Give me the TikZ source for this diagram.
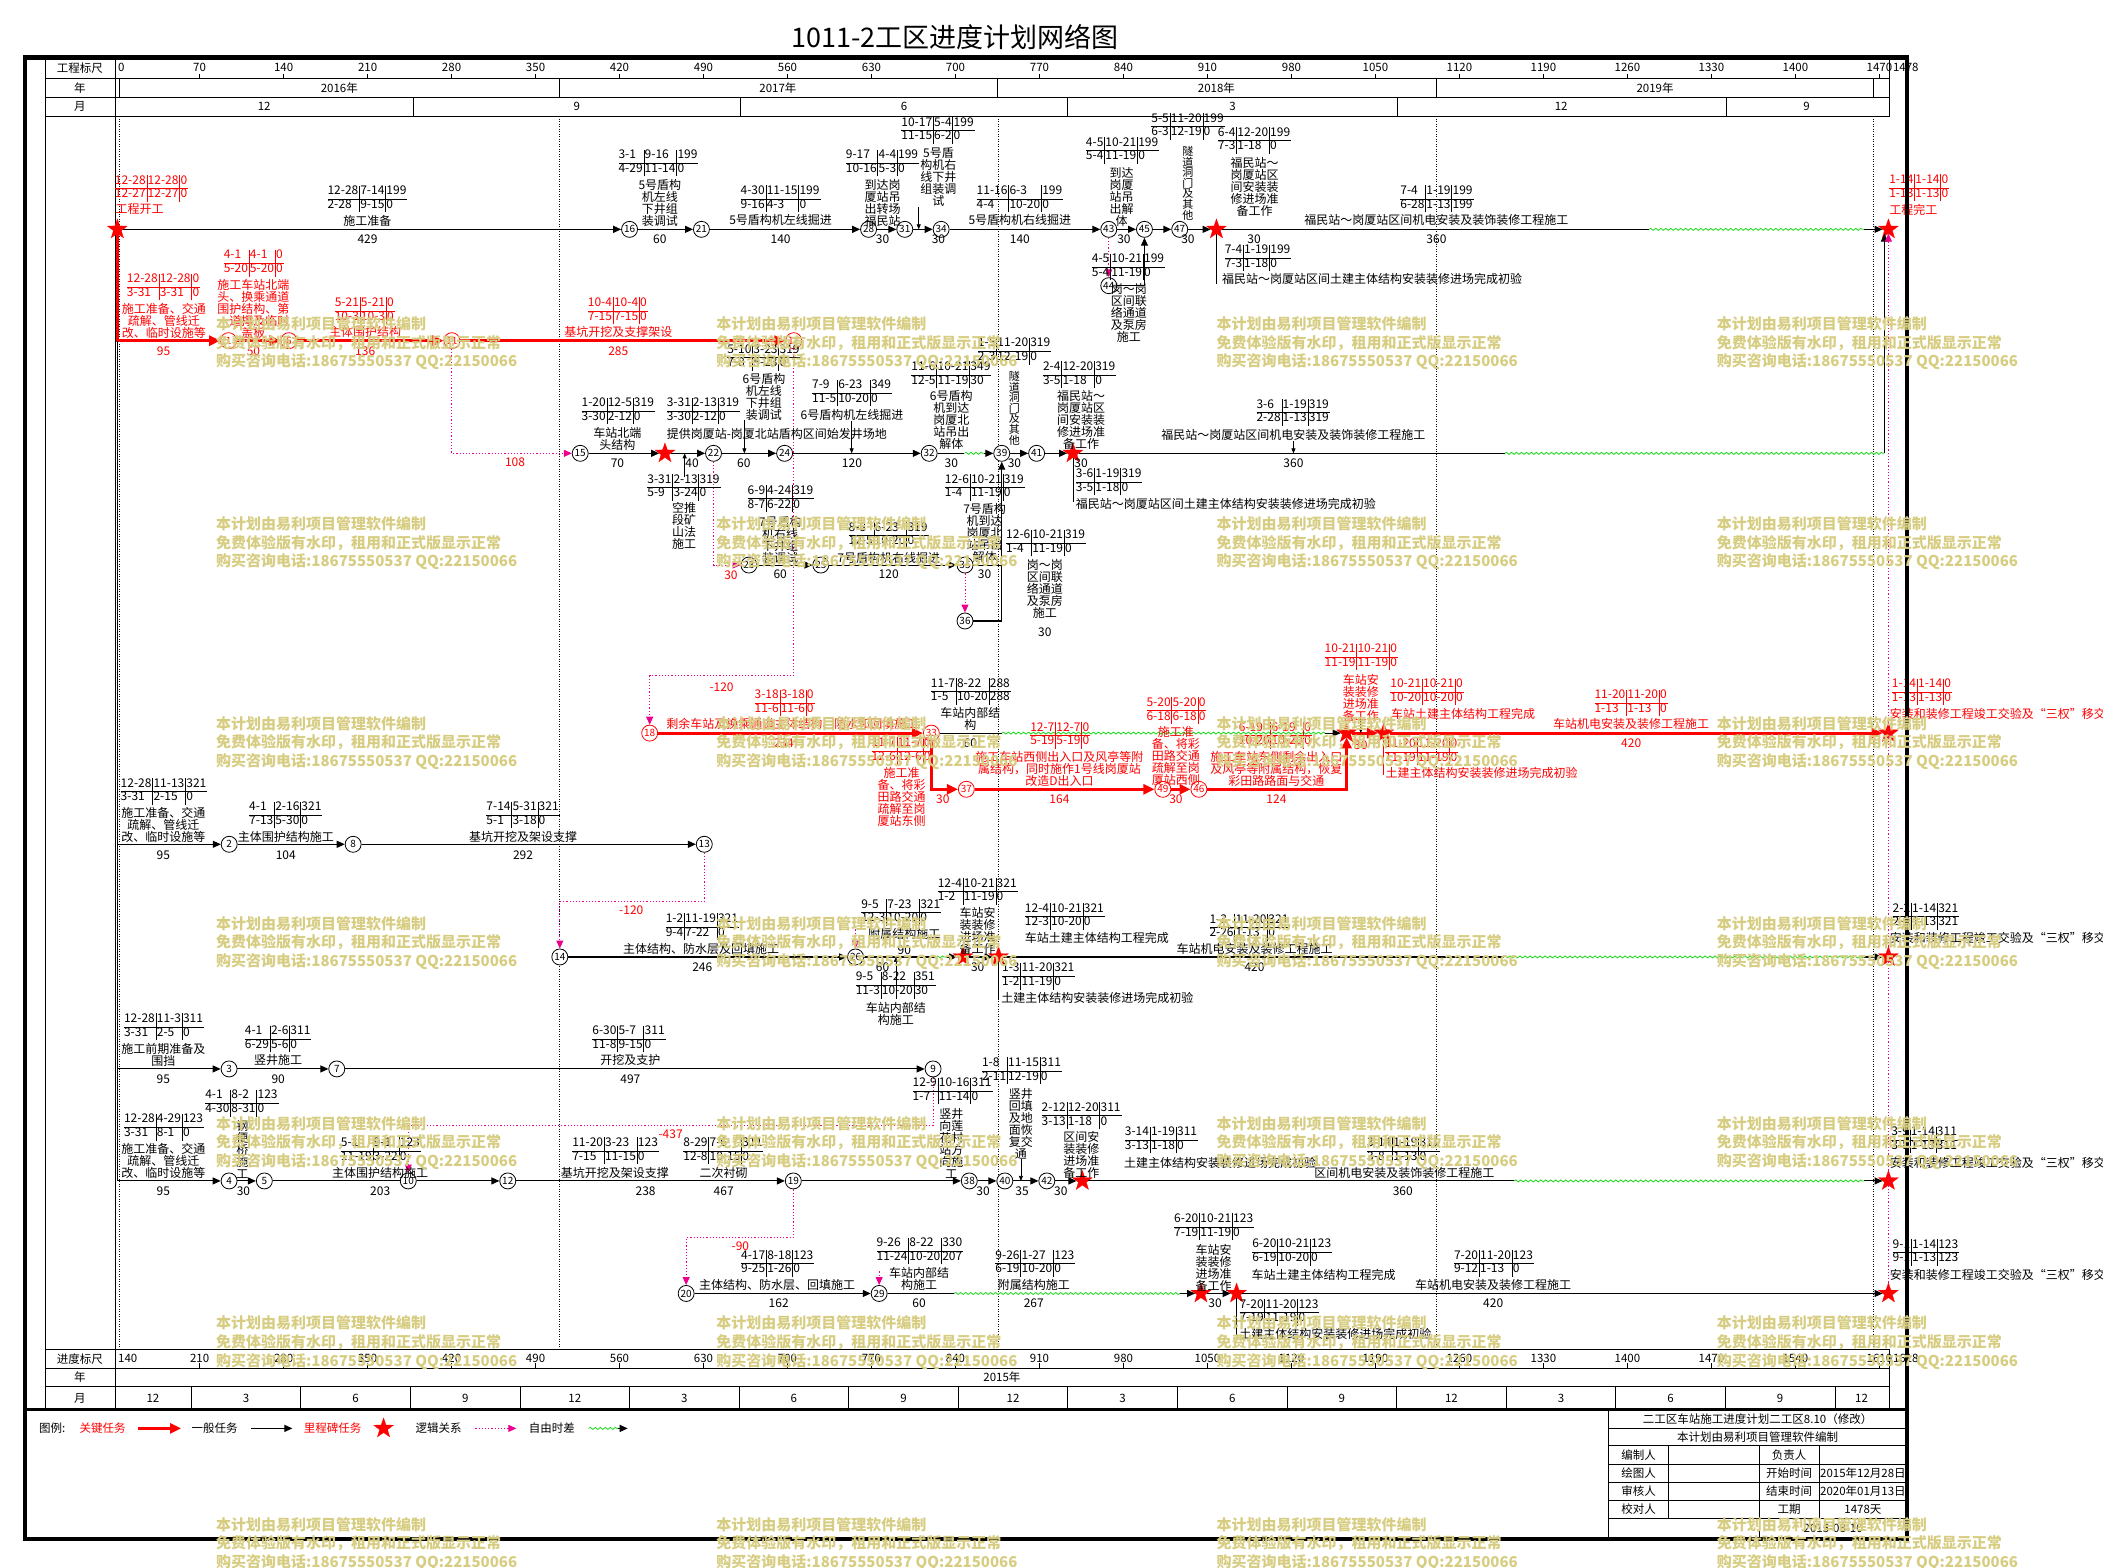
\documentclass[tikz,border=0pt]{standalone}
\usepackage{fontspec}
\setmainfont{Noto Sans CJK SC}
\usetikzlibrary{arrows.meta,shapes.geometric,decorations.pathmorphing}
\definecolor{wavegreen}{rgb}{0.1,0.85,0.1}
\definecolor{wmark}{RGB}{215,205,130}
\newcommand{\lblfont}{\fontsize{12}{12}\selectfont}
\newcommand{\wmfont}{\bfseries\fontsize{15}{18.6}\selectfont}
% date box: early start | late start | total float / early finish | late finish | free float
\newcommand{\dbox}[9][black]{\node[dbox,text=#1] (#2) at (#3) {\setlength{\tabcolsep}{1pt}\renewcommand{\arraystretch}{1.1}\begin{tabular}{@{}l|l|l@{\hspace{1pt}}}#4&#5&#6\\\hline#7&#8&#9\end{tabular}};}

\begin{document}
\begin{tikzpicture}[x=1.3412pt,y=-1.3412pt,
  ev/.style={circle,draw,fill=white,minimum size=16pt,inner sep=0pt,line width=0.8pt,font=\fontsize{10}{10}\selectfont},
  evc/.style={ev,draw=red,text=red},
  mile/.style={star,star points=5,star point ratio=2.5,fill=red,draw=red,line width=0.2pt,minimum size=21pt,inner sep=0pt},
  task/.style={line width=1.1pt,-{Triangle[length=8pt,width=7pt]}},
  tline/.style={line width=1.1pt},
  crit/.style={draw=red,line width=3pt,-{Triangle[length=11pt,width=10pt]}},
  logic/.style={draw=magenta,line width=1pt,dash pattern=on 1.2pt off 2pt,-{Triangle[length=8pt,width=7pt]}},
  slack/.style={draw=wavegreen,line width=0.8pt,decorate,decoration={snake,amplitude=1pt,segment length=5pt}},
  ptr/.style={line width=0.7pt,-{Triangle[length=5pt,width=4pt]}},
  lbl/.style={font=\lblfont,align=center,inner sep=0pt},
  rlbl/.style={lbl,text=red},
  dbox/.style={font=\lblfont,inner sep=0pt},
  hdr/.style={font=\fontsize{11.5}{11.5}\selectfont,inner sep=0pt},
  yearline/.style={line width=0.5pt,dash pattern=on 1pt off 1.5pt},
  wm/.style={font=\wmfont,text=wmark,align=left,anchor=west,inner sep=0pt}]

  \useasboundingbox (0,0) rectangle (1568,1169.1);

  \node[font=\fontsize{27}{27}\selectfont,inner sep=0pt] (title) at (712,28) {1011-2工区进度计划网络图};

  % time scale, top and bottom
  \foreach \hy in {58.4,72.6,86.7,1006,1020,1034} {
    \draw[line width=0.8pt] (33.5,\hy) -- (1409,\hy);
  }
  \draw[line width=0.8pt] (33.5,43) -- (33.5,1051);
  \draw[line width=0.8pt] (86,43) -- (86,1051);
  \draw[line width=0.8pt] (1409,43) -- (1409,86.7);
  \draw[line width=0.8pt] (1409,1006) -- (1409,1051);
  \node[hdr] (hs) at (59.5,50.5) {工程标尺};
  \node[hdr] (hy) at (59.5,65.5) {年};
  \node[hdr] (hm) at (59.5,79.6) {月};
  \node[hdr] (bs) at (59.5,1013) {进度标尺};
  \node[hdr] (by) at (59.5,1027) {年};
  \node[hdr] (bm) at (59.5,1042.5) {月};
  \node[hdr,anchor=west] (tk0) at (88,50.5) {0};
  \node[hdr,anchor=west] (bk0) at (88,1013) {140};
  \foreach \d [evaluate=\d as \b using int(\d+140)] in {70,140,...,1470} {
    \node[hdr] (tk\d) at (86.2+0.8946*\d,50.5) {\d};
    \node[hdr] (bk\d) at (86.2+0.8946*\d,1013) {\b};
    \draw[line width=0.7pt] (86.2+0.8946*\d,55) -- (86.2+0.8946*\d,58.4);
    \draw[line width=0.7pt] (86.2+0.8946*\d,1016.5) -- (86.2+0.8946*\d,1020);
  }
  \node[hdr] (tkend) at (1421,50.5) {1478};
  \node[hdr] (bkend) at (1421,1013) {1618};
  \foreach \yx in {89.2,417,744,1071,1397} {
    \draw[line width=0.8pt] (\yx,58.4) -- (\yx,72.6);
    \draw[yearline] (\yx,86.7) -- (\yx,1006);
  }
  \node[hdr] (y16) at (253,65.5) {2016年};
  \node[hdr] (y17) at (580,65.5) {2017年};
  \node[hdr] (y18) at (907,65.5) {2018年};
  \node[hdr] (y19) at (1234,65.5) {2019年};
  \foreach \mx in {308,552,796,1042,1287} {
    \draw[line width=0.8pt] (\mx,72.6) -- (\mx,86.7);
  }
  \node[hdr] (tm1) at (197,79.6) {12};
  \node[hdr] (tm2) at (430,79.6) {9};
  \node[hdr] (tm3) at (674,79.6) {6};
  \node[hdr] (tm4) at (919,79.6) {3};
  \node[hdr] (tm5) at (1164,79.6) {12};
  \node[hdr] (tm6) at (1347,79.6) {9};
  \node[hdr] (y15) at (747,1027) {2015年};
  \foreach \k in {0,...,15} {
    \draw[line width=0.8pt] (142.6+81.7*\k,1034) -- (142.6+81.7*\k,1051);
  }
  \node[hdr] (bmf) at (114,1042.5) {12};
  \foreach \m [count=\k from 0] in {3,6,9,12,3,6,9,12,3,6,9,12,3,6,9} {
    \node[hdr] (bm\k) at (183.45+81.7*\k,1042.5) {\m};
  }
  \node[hdr] (bml) at (1388,1042.5) {12};

  % events
  \node[mile] (s0) at (87.5,171) {};
  \node[ev] (n16) at (469.4,171) {16};
  \node[ev] (n21) at (523,171) {21};
  \node[ev] (n28) at (647.6,171) {28};
  \node[ev] (n31) at (674.6,171) {31};
  \node[ev] (n34) at (701.7,171) {34};
  \node[ev] (n43) at (826.7,171) {43};
  \node[ev] (n45) at (853.3,171) {45};
  \node[ev] (n47) at (879.6,171) {47};
  \node[ev] (n44) at (826.7,213) {44};
  \node[mile] (s10) at (907,171) {};
  \node[mile] (e1) at (1408,171) {};
  \node[evc] (n1) at (170.4,254) {1};
  \node[evc] (n6) at (215.4,254) {6};
  \node[evc] (n11) at (336.9,254) {11};
  \node[evc] (n17) at (591.8,254) {17};
  \node[ev] (n15) at (432.6,338) {15};
  \node[mile] (s1) at (495.8,338) {};
  \node[ev] (n22) at (532,338) {22};
  \node[ev] (n24) at (585,338) {24};
  \node[ev] (n32) at (692.8,338) {32};
  \node[ev] (n39) at (746.9,338) {39};
  \node[ev] (n41) at (772.9,338) {41};
  \node[mile] (s2) at (800,338) {};
  \node[ev] (n23) at (558.4,421.3) {23};
  \node[ev] (n25) at (612,421.3) {25};
  \node[ev] (n35) at (719.5,421.3) {35};
  \node[ev] (n36) at (719.5,463) {36};
  \node[evc] (n18) at (484.4,546.6) {18};
  \node[evc] (n33) at (694.4,546.6) {33};
  \node[evc] (n37) at (720.5,588.5) {37};
  \node[evc] (n49) at (867,588.5) {49};
  \node[evc] (n46) at (893.9,588.5) {46};
  \node[mile] (s3) at (1004,546.6) {};
  \node[mile] (s4) at (1031.8,546.6) {};
  \node[mile] (e5) at (1408,546.6) {};
  \node[ev] (n2) at (170.9,629.5) {2};
  \node[ev] (n8) at (263.3,629.5) {8};
  \node[ev] (n13) at (525.1,629.5) {13};
  \node[ev] (n14) at (417.4,713.5) {14};
  \node[ev] (n26) at (637.9,713.5) {26};
  \node[mile] (s5) at (718,713.5) {};
  \node[mile] (s6) at (744.5,713.5) {};
  \node[mile] (e7) at (1408,713.5) {};
  \node[ev] (n3) at (170.8,797) {3};
  \node[ev] (n7) at (251.1,797) {7};
  \node[ev] (n9) at (695.7,797) {9};
  \node[ev] (n4) at (170.8,880.5) {4};
  \node[ev] (n5) at (197.1,880.5) {5};
  \node[ev] (n10) at (304.4,880.5) {10};
  \node[ev] (n12) at (378.6,880.5) {12};
  \node[ev] (n19) at (591.5,880.5) {19};
  \node[ev] (n38) at (722.7,880.5) {38};
  \node[ev] (n40) at (749.2,880.5) {40};
  \node[ev] (n42) at (780.5,880.5) {42};
  \node[mile] (s7) at (807,880.5) {};
  \node[mile] (e9) at (1408,880.5) {};
  \node[ev] (n20) at (511.6,964.4) {20};
  \node[ev] (n29) at (655.5,964.4) {29};
  \node[mile] (s8) at (895.4,964.4) {};
  \node[mile] (s9) at (922,964.4) {};
  \node[mile] (e10) at (1408,964.4) {};

  \coordinate (k2) at (87.5,254);
  \coordinate (k6) at (87.5,629.5);
  \coordinate (k8) at (87.5,797);
  \coordinate (k9) at (87.5,880.5);
  \coordinate (w1a) at (1229.6,171);
  \coordinate (w1b) at (1390,171);
  \coordinate (w3a) at (719.1,338);
  \coordinate (w3b) at (734,338);
  \coordinate (w3c) at (1122,338);
  \coordinate (w3d) at (1405,338);
  \coordinate (w5a) at (747,546.6);
  \coordinate (w5b) at (988,546.6);
  \coordinate (w7a) at (698,713.5);
  \coordinate (w7b) at (705,713.5);
  \coordinate (w7c) at (1121,713.5);
  \coordinate (w7d) at (1390,713.5);
  \coordinate (w9a) at (1129,880.5);
  \coordinate (w9b) at (1390,880.5);
  \coordinate (w10a) at (711.4,964.4);
  \coordinate (w10b) at (880,964.4);
  \coordinate (j18) at (484.4,504);
  \coordinate (j14) at (417.4,672.2);
  \coordinate (j10) at (304.4,839.4);
  \coordinate (j20) at (511.6,923);
  \coordinate (q26) at (637.9,693);
  \coordinate (q29) at (655.5,948);
  \coordinate (m10) at (907,212);
  \coordinate (m2) at (800,374);
  \coordinate (m4) at (1031.8,578);
  \coordinate (m6) at (744.5,745);
  \coordinate (m9) at (922,996);

  % connectors
  \draw[task] (s0) -- (n16);
  \draw[task] (n16) -- (n21);
  \draw[task] (n21) -- (n28);
  \draw[task] (n28) -- (n31);
  \draw[task] (n31) -- (n34);
  \draw[task] (n34) -- (n43);
  \draw[task] (n43) -- (n45);
  \draw[task] (n45) -- (n47);
  \draw[task] (n47) -- (s10);
  \draw[tline] (s10) -- (w1a);
  \draw[slack] (w1a) -- (w1b);
  \draw[task] (w1b) -- (e1);
  \draw[logic] (n43) -- (n44);
  \draw[task] (n44) -| (n45);
  \draw[tline,line width=0.8pt] (s10) -- (m10);

  \draw[crit] (s0) |- (n1);
  \draw[crit] (n1) -- (n6);
  \draw[crit] (n6) -- (n11);
  \draw[crit] (n11) -- (n17);
  \draw[logic] (n11) |- (n15);
  \draw[logic] (n17) |- (j18) -- (n18);
  \draw[tline] (k2) -- (k9);

  \draw[task] (n15) -- (s1);
  \draw[task] (s1) -- (n22);
  \draw[task] (n22) -- (n24);
  \draw[task] (n24) -- (n32);
  \draw[tline] (n32) -- (w3a);
  \draw[slack] (w3a) -- (w3b);
  \draw[task] (w3b) -- (n39);
  \draw[task] (n39) -- (n41);
  \draw[task] (n41) -- (s2);
  \draw[tline] (s2) -- (w3c);
  \draw[slack] (w3c) -- (w3d);
  \draw[task] (w3d) -- (w3d |- e1.south);
  \draw[tline,line width=0.8pt] (s2) -- (m2);

  \draw[logic] (n22) |- (n23);
  \draw[task] (n23) -- (n25);
  \draw[task] (n25) -- (n35);
  \draw[logic] (n35) -- (n36);
  \draw[tline] (n35) -- (n35 -| n39);
  \draw[task] (n36) -| (n39);

  \draw[crit] (n18) -- (n33);
  \draw[tline] (n33) -- (w5a);
  \draw[slack] (w5a) -- (w5b);
  \draw[task] (w5b) -- (s3);
  \draw[crit] (n33) |- (n37);
  \draw[crit] (n37) -- (n49);
  \draw[crit] (n49) -- (n46);
  \draw[crit] (n46) -| (s3);
  \draw[crit] (s3) -- (s4);
  \draw[crit] (s4) -- (e5);
  \draw[red,line width=0.8pt] (s4) -- (m4);

  \draw[task] (k6) -- (n2);
  \draw[task] (n2) -- (n8);
  \draw[task] (n8) -- (n13);
  \draw[logic] (n13) |- (j14) -- (n14);

  \draw[task] (n14) -- (n26);
  \draw[logic] (q26) -- (n26);
  \draw[tline] (n26) -- (w7a);
  \draw[slack] (w7a) -- (w7b);
  \draw[task] (w7b) -- (s5);
  \draw[task] (s5) -- (s6);
  \draw[tline] (s6) -- (w7c);
  \draw[slack] (w7c) -- (w7d);
  \draw[task] (w7d) -- (e7);
  \draw[tline,line width=0.8pt] (s6) -- (m6);

  \draw[task] (k8) -- (n3);
  \draw[task] (n3) -- (n7);
  \draw[task] (n7) -- (n9);
  \draw[logic] (n9) |- (j10) -- (n10);

  \draw[task] (k9) -- (n4);
  \draw[task] (n4) -- (n5);
  \draw[tline] (n5) -- (n10);
  \draw[task] (n10) -- (n12);
  \draw[task] (n12) -- (n19);
  \draw[task] (n19) -- (n38);
  \draw[task] (n38) -- (n40);
  \draw[task] (n40) -- (n42);
  \draw[task] (n42) -- (s7);
  \draw[tline] (s7) -- (w9a);
  \draw[slack] (w9a) -- (w9b);
  \draw[task] (w9b) -- (e9);
  \draw[logic] (n19) |- (j20) -- (n20);

  \draw[task] (n20) -- (n29);
  \draw[logic] (q29) -- (n29);
  \draw[tline] (n29) -- (w10a);
  \draw[slack] (w10a) -- (w10b);
  \draw[task] (w10b) -- (s8);
  \draw[task] (s8) -- (s9);
  \draw[task] (s9) -- (e10);
  \draw[tline,line width=0.8pt] (s9) -- (m9);

  \draw[logic] (e10) -- (e1);

  % row 1
  \dbox[red]{b1}{113,140.5}{12-28}{12-28}{0}{12-27}{12-27}{0}
  \node[rlbl,anchor=west] (t1) at (86,156) {工程开工};
  \dbox{b2}{274,148.4}{12-28}{7-14}{199}{2-28}{9-15}{0}
  \node[lbl] (t2) at (274,164.6) {施工准备};
  \node[lbl] (d2) at (274,178.2) {429};
  \dbox{b3}{491,121.5}{3-1}{9-16}{199}{4-29}{11-14}{0}
  \node[lbl] (t3) at (492,151.3) {5号盾构\\机左线\\下井组\\装调试};
  \node[lbl] (d3) at (492,178.2) {60};
  \dbox{b4}{582,148.2}{4-30}{11-15}{199}{9-16}{4-3}{0}
  \node[lbl] (t4) at (582,164.3) {5号盾构机左线掘进};
  \node[lbl] (d4) at (582,178.2) {140};
  \dbox{b5}{658,121.5}{9-17}{4-4}{199}{10-16}{5-3}{0}
  \node[lbl] (t5) at (658,151) {到达岗\\厦站吊\\出转场\\福民站};
  \node[lbl] (d5) at (658,178.2) {30};
  \dbox{b6}{699.4,97.3}{10-17}{5-4}{199}{11-15}{6-2}{0}
  \node[lbl] (t6) at (699.7,132.2) {5号盾\\构机右\\线下井\\组装调\\试};
  \node[lbl] (d6) at (699.7,178.2) {30};
  \coordinate (p6) at (685,154);
  \draw[ptr] (p6) -- (p6 |- n31);
  \dbox{b7}{760.5,148.2}{11-16}{6-3}{199}{4-4}{10-20}{0}
  \node[lbl] (t7) at (760.4,164.3) {5号盾构机右线掘进};
  \node[lbl] (d7) at (760.4,178.2) {140};
  \dbox{b8}{837,112.2}{4-5}{10-21}{199}{5-4}{11-19}{0}
  \node[lbl] (t8) at (836.3,146.9) {到达\\岗厦\\站吊\\出解\\体};
  \node[lbl] (d8) at (838,178.2) {30};
  \dbox{b9}{885.8,94.3}{5-5}{11-20}{199}{6-3}{12-19}{0}
  \node[lbl,font=\fontsize{11}{10}\selectfont] (t9) at (885.7,136.5) {隧\\道\\洞\\门\\及\\其\\他};
  \node[lbl] (d9) at (885.7,178.2) {30};
  \dbox{b10}{935.4,104.7}{6-4}{12-20}{199}{7-3}{1-18}{0}
  \node[lbl] (t10) at (935.4,139.5) {福民站～\\岗厦站区\\间安装装\\修进场准\\备工作};
  \node[lbl] (d10) at (935,178.2) {30};
  \dbox{b11}{1071.4,148.2}{7-4}{1-19}{199}{6-28}{1-13}{199}
  \node[lbl] (t11) at (1071,164.3) {福民站～岗厦站区间机电安装及装饰装修工程施工};
  \node[lbl] (d11) at (1071,178.2) {360};
  \dbox{b12}{938,192.4}{7-4}{1-19}{199}{7-3}{1-18}{0}
  \node[lbl,anchor=west] (t12) at (911,208.3) {福民站～岗厦站区间土建主体结构安装装修进场完成初验};
  \dbox{b13}{841.4,199}{4-5}{10-21}{199}{5-4}{11-19}{0}
  \node[lbl] (t13) at (841.6,233.4) {岗～岗\\区间联\\络通道\\及泵房\\施工};
  \dbox[red]{b14}{1431,140}{1-14}{1-14}{0}{1-13}{1-13}{0}
  \node[rlbl,anchor=west] (t14) at (1408.5,156.4) {工程完工};

  % row 2
  \dbox[red]{b15}{122,214}{12-28}{12-28}{0}{3-31}{3-31}{0}
  \node[rlbl] (t15) at (122.2,239) {施工准备、交通\\疏解、管线迁\\改、临时设施等};
  \node[rlbl] (d15) at (122,261.5) {95};
  \dbox[red]{b16}{189.2,196.2}{4-1}{4-1}{0}{5-20}{5-20}{0}
  \node[rlbl] (t16) at (189,230.3) {施工车站北端\\头、换乘通道\\围护结构、第\\一道撑及临时\\盖板};
  \node[rlbl] (d16) at (189,261.5) {50};
  \dbox[red]{b17}{272,231.8}{5-21}{5-21}{0}{10-3}{10-3}{0}
  \node[rlbl] (t17) at (272.3,247.8) {主体围护结构};
  \node[rlbl] (d17) at (272.3,261.5) {136};
  \dbox[red]{b18}{460.7,231.8}{10-4}{10-4}{0}{7-15}{7-15}{0}
  \node[rlbl] (t18) at (461,247.8) {基坑开挖及支撑架设};
  \node[rlbl] (d18) at (461,261.5) {285};
  \node[rlbl] (d19) at (384,344.5) {108};
  \node[rlbl] (d20) at (538,512.4) {-120};

  % row 3
  \dbox{b21}{461,306.4}{1-20}{12-5}{319}{3-30}{2-12}{0}
  \node[lbl] (t21) at (460.4,327.3) {车站北端\\头结构};
  \node[lbl] (d21) at (460.4,345.4) {70};
  \dbox{b22}{524.5,306.4}{3-31}{2-13}{319}{3-30}{2-12}{0}
  \node[lbl,anchor=west] (t22) at (497,323.3) {提供岗厦站-岗厦北站盾构区间始发井场地};
  \node[lbl] (d23) at (516,345.4) {40};
  \dbox{b23}{510,363.3}{3-31}{2-13}{319}{5-9}{3-24}{0}
  \node[lbl] (t23) at (510,392.3) {空推\\段矿\\山法\\施工};
  \coordinate (p22) at (510.5,356);
  \draw[ptr] (p22) -- (p22 |- s1);
  \dbox{b24}{569.6,266.3}{5-10}{3-23}{319}{7-8}{5-23}{0}
  \node[lbl] (t24) at (569.6,296) {6号盾构\\机左线\\下井组\\装调试};
  \node[lbl] (d24) at (554.6,345.4) {60};
  \coordinate (p24) at (555,313);
  \draw[ptr] (p24) -- (p24 |- n22);
  \dbox{b25}{635.3,293}{7-9}{6-23}{349}{11-5}{10-20}{0}
  \node[lbl] (t25) at (635.2,309.5) {6号盾构机左线掘进};
  \node[lbl] (d25) at (635.2,345.4) {120};
  \coordinate (p25) at (635,314);
  \draw[ptr] (p25) -- (p25 |- n24);
  \dbox{b26}{709.4,279.4}{11-6}{10-21}{349}{12-5}{11-19}{30}
  \node[lbl] (t26) at (709.3,313.3) {6号盾构\\机到达\\岗厦北\\站吊出\\解体};
  \node[lbl] (d26) at (709.3,345.4) {30};
  \dbox{b27}{756.5,261.8}{1-5}{11-20}{319}{2-3}{12-19}{0}
  \node[lbl,font=\fontsize{11}{10}\selectfont] (t27) at (756.4,304.5) {隧\\道\\洞\\门\\及\\其\\他};
  \node[lbl] (d27) at (756.4,345.4) {30};
  \dbox{b28}{805,279.4}{2-4}{12-20}{319}{3-5}{1-18}{0}
  \node[lbl] (t28) at (806,313.3) {福民站～\\岗厦站区\\间安装装\\修进场准\\备工作};
  \node[lbl] (d28) at (806,345.4) {30};
  \dbox{b29}{964.2,307.6}{3-6}{1-19}{319}{2-28}{1-13}{319}
  \node[lbl] (t29) at (964.4,324.1) {福民站～岗厦站区间机电安装及装饰装修工程施工};
  \node[lbl] (d29) at (964.4,345.4) {360};
  \coordinate (p29) at (964.4,329);
  \draw[ptr] (p29) -- (p29 |- s2);
  \dbox{b30}{827,359.3}{3-6}{1-19}{319}{3-5}{1-18}{0}
  \node[lbl,anchor=west] (t30) at (802,376) {福民站～岗厦站区间土建主体结构安装装修进场完成初验};
  \dbox{b31}{734.3,363.3}{12-6}{10-21}{319}{1-4}{11-19}{0}
  \node[lbl] (t31) at (734.1,397.2) {7号盾构\\机到达\\岗厦北\\站吊出\\解体};
  \node[lbl] (d31) at (734.1,428.5) {30};
  \dbox{b32}{780,404.8}{12-6}{10-21}{319}{1-4}{11-19}{0}
  \node[lbl] (t32) at (779,439.2) {岗～岗\\区间联\\络通道\\及泵房\\施工};
  \node[lbl] (d32) at (779,471.1) {30};

  % row 4
  \node[rlbl] (d33) at (545,429) {30};
  \dbox{b34}{582.3,371.8}{6-9}{4-24}{319}{8-7}{6-22}{0}
  \node[lbl] (t34) at (581.7,402.6) {7号盾构\\机右线\\下井组\\装调试};
  \node[lbl] (d34) at (581.7,428.5) {60};
  \dbox{b35}{662.5,399.2}{8-8}{6-23}{319}{12-5}{10-20}{0}
  \node[lbl] (t35) at (662.6,416) {7号盾构机右线掘进};
  \node[lbl] (d35) at (662.6,428.5) {120};

  % row 5
  \dbox[red]{b37}{585,524.1}{3-18}{3-18}{0}{11-6}{11-6}{0}
  \node[rlbl] (t37) at (590.8,539.4) {剩余车站及换乘通道主体结构、防水和回填施工};
  \node[rlbl] (d37) at (584.4,554.2) {234};
  \dbox{b38}{723.9,515.6}{11-7}{8-22}{288}{1-5}{10-20}{288}
  \node[lbl] (t38) at (723.5,535.8) {车站内部结\\构};
  \node[lbl] (d38) at (723.5,554.2) {60};
  \dbox[red]{b39}{672.2,559.8}{11-7}{11-7}{0}{12-6}{12-6}{0}
  \node[rlbl] (t39) at (672.2,594.3) {施工准\\备、将彩\\田路交通\\疏解至岗\\厦站东侧};
  \node[rlbl] (d39) at (703,595.6) {30};
  \dbox[red]{b40}{790.5,548.4}{12-7}{12-7}{0}{5-19}{5-19}{0}
  \node[rlbl] (t40) at (789.9,573) {施工车站西侧出入口及风亭等附\\属结构，同时施作1号线岗厦站\\改造D出入口};
  \node[rlbl] (d40) at (789.9,595.6) {164};
  \dbox[red]{b41}{877.2,529.8}{5-20}{5-20}{0}{6-18}{6-18}{0}
  \node[rlbl] (t41) at (876.8,563.7) {施工准\\备、将彩\\田路交通\\疏解至岗\\厦站西侧};
  \node[rlbl] (d41) at (876.8,595.6) {30};
  \dbox[red]{b42}{951,548.4}{6-19}{6-19}{0}{10-20}{10-20}{0}
  \node[rlbl] (t42) at (951.7,573) {施工车站东侧剩余出入口\\及风亭等附属结构，恢复\\彩田路路面与交通};
  \node[rlbl] (d42) at (951.7,595.6) {124};
  \dbox[red]{b43}{1015,489.9}{10-21}{10-21}{0}{11-19}{11-19}{0}
  \node[rlbl] (t43) at (1014.6,520.1) {车站安\\装装修\\进场准\\备工作};
  \node[rlbl] (d43) at (1014.6,556) {30};
  \coordinate (p43) at (1014.6,536);
  \draw[ptr] (p43) -- (p43 |- s3);
  \dbox[red]{b44}{1064,515.9}{10-21}{10-21}{0}{10-20}{10-20}{0}
  \node[rlbl,anchor=west] (t44) at (1037,532.3) {车站土建主体结构工程完成};
  \dbox[red]{b45}{1216.2,524.1}{11-20}{11-20}{0}{1-13}{1-13}{0}
  \node[rlbl] (t45) at (1216.2,540) {车站机电安装及装修工程施工};
  \node[rlbl] (d45) at (1216.2,554.2) {420};
  \dbox[red]{b46}{1060,560.6}{11-20}{11-20}{0}{11-19}{11-19}{0}
  \node[rlbl,anchor=west] (t46) at (1033,576.5) {土建主体结构安装装修进场完成初验};
  \dbox[red]{b47}{1433,515.9}{1-14}{1-14}{0}{1-13}{1-13}{0}
  \node[rlbl,anchor=west] (t47) at (1409,532.3) {安装和装修工程竣工交验及“三权”移交};

  % row 6
  \dbox{b48}{122.3,590}{12-28}{11-13}{321}{3-31}{2-15}{0}
  \node[lbl] (t48) at (121.8,615.2) {施工准备、交通\\疏解、管线迁\\改、临时设施等};
  \node[lbl] (d48) at (121.8,637.6) {95};
  \dbox{b49}{213.1,607.7}{4-1}{2-16}{321}{7-13}{5-30}{0}
  \node[lbl] (t49) at (213.1,623.7) {主体围护结构施工};
  \node[lbl] (d49) at (213.1,637.6) {104};
  \dbox{b50}{390,607.7}{7-14}{5-31}{321}{5-1}{3-18}{0}
  \node[lbl] (t50) at (390,623.7) {基坑开挖及架设支撑};
  \node[lbl] (d50) at (390,637.6) {292};
  \node[rlbl] (d51) at (470.7,679) {-120};

  % row 7
  \dbox{b52}{523.7,691}{1-2}{11-19}{321}{9-4}{7-22}{0}
  \node[lbl] (t52) at (522.8,707.8) {主体结构、防水层及回填施工};
  \node[lbl] (d52) at (523.6,721.2) {246};
  \dbox{b53}{672,680.2}{9-5}{7-23}{321}{12-3}{10-20}{0}
  \node[lbl] (t53) at (674.3,696.3) {附属结构施工};
  \node[lbl] (d53) at (674.3,708.5) {90};
  \dbox{b54}{667.9,734.5}{9-5}{8-22}{351}{11-3}{10-20}{30}
  \node[lbl] (t54) at (667.9,755.6) {车站内部结\\构施工};
  \node[lbl] (d54) at (658,721.2) {60};
  \coordinate (p54) at (668,745);
  \draw[ptr] (p54) -- (p54 |- n26);
  \dbox{b55}{729,664.6}{12-4}{10-21}{321}{1-2}{11-19}{0}
  \node[lbl] (t55) at (729,694.2) {车站安\\装装修\\进场准\\备工作};
  \node[lbl] (d55) at (729,721.2) {30};
  \dbox{b56}{794,683.1}{12-4}{10-21}{321}{12-3}{10-20}{0}
  \node[lbl,anchor=west] (t56) at (764,699.2) {车站土建主体结构工程完成};
  \dbox{b57}{931.6,691.3}{1-3}{11-20}{321}{2-26}{1-13}{0}
  \node[lbl] (t57) at (935.4,707.8) {车站机电安装及装修工程施工};
  \node[lbl] (d57) at (935.4,721.2) {420};
  \dbox{b58}{774.5,727.8}{1-3}{11-20}{321}{1-2}{11-19}{0}
  \node[lbl,anchor=west] (t58) at (746.5,744.3) {土建主体结构安装装修进场完成初验};
  \dbox{b59}{1436,683.1}{2-2}{1-14}{321}{2-2}{1-13}{321}
  \node[lbl,anchor=west] (t59) at (1409,699.2) {安装和装修工程竣工交验及“三权”移交};

  % row 8
  \dbox{b60}{122.3,765.6}{12-28}{11-3}{311}{3-31}{2-5}{0}
  \node[lbl] (t60) at (121.8,786.5) {施工前期准备及\\围挡};
  \node[lbl] (d60) at (121.8,804.4) {95};
  \dbox{b61}{207.4,774.7}{4-1}{2-6}{311}{6-29}{5-6}{0}
  \node[lbl] (t61) at (207.4,790.5) {竖井施工};
  \node[lbl] (d61) at (207.4,804.4) {90};
  \dbox{b62}{469,774.7}{6-30}{5-7}{311}{11-8}{9-15}{0}
  \node[lbl] (t62) at (470,790.5) {开挖及支护};
  \node[lbl] (d62) at (470,804.4) {497};
  \node[rlbl] (d63) at (500,846) {-437};
  \dbox{b64}{710.3,813.4}{12-9}{10-16}{311}{1-7}{11-14}{0}
  \node[lbl] (t64) at (709.4,852.6) {竖井\\向莲\\花村\\站方\\向施\\工};
  \node[lbl] (d64) at (733,888.4) {30};
  \dbox{b65}{762,798.4}{1-8}{11-15}{311}{2-11}{12-19}{0}
  \node[lbl] (t65) at (761.2,838.3) {竖井\\回填\\及地\\面恢\\复交\\通};
  \node[lbl] (d65) at (762,888.4) {35};
  \coordinate (p65) at (761.2,864);
  \draw[ptr] (p65) -- (p65 |- n40);
  \dbox{b66}{806.5,831.8}{2-12}{12-20}{311}{3-13}{1-18}{0}
  \node[lbl] (t66) at (806.2,861.2) {区间安\\装装修\\进场准\\备工作};
  \node[lbl] (d66) at (791,888.4) {30};
  \dbox{b67}{866,850}{3-14}{1-19}{311}{3-13}{1-18}{0}
  \node[lbl,anchor=west] (t67) at (838,867) {土建主体结构安装装修进场完成初验};
  \dbox{b68}{1046.7,858}{3-14}{1-19}{311}{3-8}{1-13}{0}
  \node[lbl] (t68) at (1047,874.7) {区间机电安装及装饰装修工程施工};
  \node[lbl] (d68) at (1045.9,888.4) {360};
  \dbox{b69}{1435,850}{3-9}{1-14}{311}{3-8}{1-13}{311}
  \node[lbl,anchor=west] (t69) at (1409,867) {安装和装修工程竣工交验及“三权”移交};

  % row 9
  \dbox{b70}{122.3,840.4}{12-28}{4-29}{123}{3-31}{8-1}{0}
  \node[lbl] (t70) at (121.8,865.6) {施工准备、交通\\疏解、管线迁\\改、临时设施等};
  \node[lbl] (d70) at (121.8,888.1) {95};
  \dbox{b71}{180.4,822.5}{4-1}{8-2}{123}{4-30}{8-31}{0}
  \node[lbl] (t71) at (180.7,857.2) {钢\\便\\桥\\施\\工};
  \node[lbl] (d71) at (181.5,888.1) {30};
  \dbox{b72}{284,858}{5-1}{9-1}{123}{11-19}{3-22}{0}
  \node[lbl] (t72) at (283.5,874.5) {主体围护结构施工};
  \node[lbl] (d72) at (283.5,888.1) {203};
  \dbox{b73}{459,858}{11-20}{3-23}{123}{7-15}{11-15}{0}
  \node[lbl] (t73) at (458.5,874.5) {基坑开挖及架设支撑};
  \node[lbl] (d73) at (481.4,888.1) {238};
  \dbox{b74}{539.4,858}{8-29}{7-6}{311}{12-8}{10-15}{0}
  \node[lbl] (t74) at (539.6,874.5) {二次衬砌};
  \node[lbl] (d74) at (539.6,888.1) {467};
  \node[rlbl] (d75) at (552,929) {-90};

  % row 10
  \dbox{b76}{579.9,942}{4-17}{8-18}{123}{9-25}{1-26}{0}
  \node[lbl] (t76) at (579.4,958.2) {主体结构、防水层、回填施工};
  \node[lbl] (d76) at (580.6,971.9) {162};
  \dbox{b78}{685.9,932.8}{9-26}{8-22}{330}{11-24}{10-20}{207}
  \node[lbl] (t78) at (685.2,953.3) {车站内部结\\构施工};
  \node[lbl] (d78) at (685.2,971.9) {60};
  \dbox{b79}{772,942}{9-26}{1-27}{123}{6-19}{10-20}{0}
  \node[lbl] (t79) at (770.8,958.2) {附属结构施工};
  \node[lbl] (d79) at (770.8,971.9) {267};
  \dbox{b80}{905.3,914.7}{6-20}{10-21}{123}{7-19}{11-19}{0}
  \node[lbl] (t80) at (904.9,945.3) {车站安\\装装修\\进场准\\备工作};
  \node[lbl] (d80) at (906,971.9) {30};
  \dbox{b81}{963.5,933.6}{6-20}{10-21}{123}{6-19}{10-20}{0}
  \node[lbl,anchor=west] (t81) at (933,950.3) {车站土建主体结构工程完成};
  \dbox{b82}{954,978.4}{7-20}{11-20}{123}{7-19}{11-19}{0}
  \node[lbl,anchor=west] (t82) at (924,994.3) {土建主体结构安装装修进场完成初验};
  \dbox{b83}{1113.9,942}{7-20}{11-20}{123}{9-12}{1-13}{0}
  \node[lbl] (t83) at (1113.2,958.2) {车站机电安装及装修工程施工};
  \node[lbl] (d83) at (1113.3,971.9) {420};
  \dbox{b84}{1436,933.9}{9-1}{1-14}{123}{9-1}{1-13}{123}
  \node[lbl,anchor=west] (t84) at (1409,950.3) {安装和装修工程竣工交验及“三权”移交};

  % legend
  \node[hdr] (lg0) at (39,1065) {图例:};
  \node[hdr,text=red] (lg1) at (76.5,1065) {关键任务};
  \coordinate (la1) at (103,1065);
  \coordinate (la2) at (135,1065);
  \draw[crit] (la1) -- (la2);
  \node[hdr] (lg2) at (160,1065) {一般任务};
  \coordinate (lb1) at (187.5,1065);
  \coordinate (lb2) at (218,1065);
  \draw[task] (lb1) -- (lb2);
  \node[hdr,text=red] (lg3) at (248,1065) {里程碑任务};
  \node[mile] (lgs) at (286,1065) {};
  \node[hdr] (lg4) at (327,1065) {逻辑关系};
  \coordinate (lc1) at (354.5,1065);
  \coordinate (lc2) at (385,1065);
  \draw[logic] (lc1) -- (lc2);
  \node[hdr] (lg5) at (411.5,1065) {自由时差};
  \coordinate (ld1) at (439,1065);
  \coordinate (ld2) at (461,1065);
  \coordinate (ld3) at (468,1065);
  \draw[slack] (ld1) -- (ld2);
  \draw[task] (ld2) -- (ld3);

  % title block
  \draw[line width=0.8pt] (1199.3,1051) -- (1199.3,1147.5);
  \foreach \ty in {1065,1078,1091.5,1105,1118.5,1131.8} {
    \draw[line width=0.8pt] (1199.3,\ty) -- (1422,\ty);
  }
  \draw[line width=0.8pt] (1244,1078) -- (1244,1131.8);
  \draw[line width=0.8pt] (1356.3,1078) -- (1356.3,1131.8);
  \draw[line width=0.8pt] (1311.6,1078) -- (1311.6,1147.5);
  \node[hdr] (tb1) at (1310.5,1058) {二工区车站施工进度计划二工区8.10（修改）};
  \node[hdr] (tb2) at (1310.5,1071.5) {本计划由易利项目管理软件编制};
  \node[hdr] (tb3) at (1221.7,1084.8) {编制人};
  \node[hdr] (tb4) at (1334,1084.8) {负责人};
  \node[hdr] (tb5) at (1221.7,1098.2) {绘图人};
  \node[hdr] (tb6) at (1334,1098.2) {开始时间};
  \node[hdr] (tb7) at (1389,1098.2) {2015年12月28日};
  \node[hdr] (tb8) at (1221.7,1111.8) {审核人};
  \node[hdr] (tb9) at (1334,1111.8) {结束时间};
  \node[hdr] (tb10) at (1389,1111.8) {2020年01月13日};
  \node[hdr] (tb11) at (1221.7,1125.2) {校对人};
  \node[hdr] (tb12) at (1334,1125.2) {工期};
  \node[hdr] (tb13) at (1389,1125.2) {1478天};
  \node[hdr] (tb14) at (1366.8,1139.7) {2015-08-10};

  % frame
  \draw[line width=4.5pt] (18.6,43) rectangle (1422,1147.5);
  \draw[line width=3pt] (18.6,1051) -- (1422,1051);

  % watermark
  \foreach \wx in {161,534,907,1280} {
    \foreach \wy in {256,405,554,703,852,1001,1151} {
      \node[wm] (w\wx-\wy) at (\wx,\wy) {本计划由易利项目管理软件编制\\免费体验版有水印，租用和正式版显示正常\\购买咨询电话:18675550537 QQ:22150066};
    }
  }
\end{tikzpicture}
\end{document}
